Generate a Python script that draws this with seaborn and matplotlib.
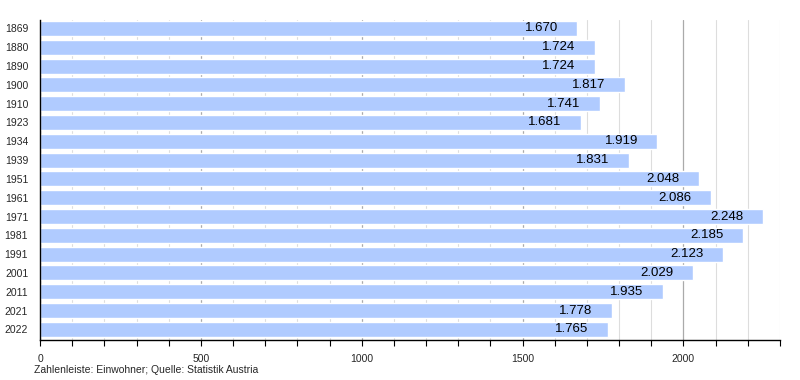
import pandas as pd
import matplotlib.pyplot as plt
import seaborn as sns
from matplotlib.ticker import MultipleLocator

years = ['1869', '1880', '1890', '1900', '1910', '1923', '1934', '1939', '1951',
         '1961', '1971', '1981', '1991', '2001', '2011', '2021', '2022']
population = [1670, 1724, 1724, 1817, 1741, 1681, 1919, 1831, 2048,
              2086, 2248, 2185, 2123, 2029, 1935, 1778, 1765]

df = pd.DataFrame({'Jahr': years, 'Einwohner': population})

sns.set_style('white')
plt.rcParams['font.family'] = ['Liberation Sans', 'DejaVu Sans']

fig, ax = plt.subplots(figsize=(8, 3.8), dpi=100)
fig.subplots_adjust(left=0.05, right=0.975, top=0.947, bottom=0.105)

sns.barplot(data=df, x='Einwohner', y='Jahr', orient='h', color='#b0cbff',
            saturation=1, width=0.8, ax=ax, zorder=2)

ax.set_xlim(0, 2300)
ax.set_ylim(len(years) - 0.43, -0.44)
ax.xaxis.set_major_locator(MultipleLocator(500))
ax.xaxis.set_minor_locator(MultipleLocator(100))
ax.grid(which='minor', axis='x', color='#dddddd', linewidth=0.8, zorder=0)
ax.grid(which='major', axis='x', color='#aaaaaa', linewidth=0.9, zorder=0)
ax.set_axisbelow(True)

for s in ['top', 'right']:
    ax.spines[s].set_visible(False)
for s in ['left', 'bottom']:
    ax.spines[s].set_color('black')
    ax.spines[s].set_linewidth(1.0)

ax.tick_params(axis='x', which='both', bottom=True, length=4, width=0.8,
               color='black', direction='out')
ax.tick_params(axis='x', which='major', labelsize=7.5, pad=6)
ax.tick_params(axis='y', left=False, labelsize=7.5, pad=5)
ax.set_xlabel('')
ax.set_ylabel('')

# value labels inside the bar ends
for bar, val in zip(ax.patches, population):
    ax.annotate(f'{val:,}'.replace(',', '.'),
                xy=(bar.get_width(), bar.get_y() + bar.get_height() / 2),
                xytext=(-14, 0), textcoords='offset points',
                ha='right', va='center', fontsize=9.5, color='black', zorder=3)

fig.text(0.043, 0.012, 'Zahlenleiste: Einwohner; Quelle: Statistik Austria',
         fontsize=7.5, ha='left', va='bottom')

plt.savefig('out.png', dpi=100)
